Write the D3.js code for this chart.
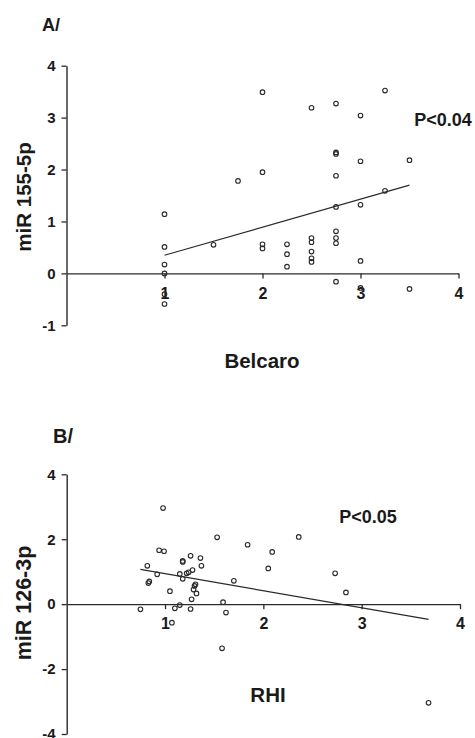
<!DOCTYPE html>
<html>
<head>
<meta charset="utf-8">
<script src="https://cdn.jsdelivr.net/npm/d3@7"></script>
<style>
  html, body { margin: 0; padding: 0; background: #fff; }
  svg text { font-family: "Liberation Sans", Arial, sans-serif; font-weight: bold; fill: #1a1a1a; }
</style>
</head>
<body>
<svg id="chart" width="475" height="738"></svg>
<script>
// ---- Panel A data (Belcaro vs miR 155-5p) ----
const belcaro = [1,1,1,1,1,1, 1.5, 1.75, 2,2,2,2, 2.25,2.25,2.25,
  2.5,2.5,2.5,2.5,2.5,2.5, 2.75,2.75,2.75,2.75,2.75,2.75,2.75,2.75,2.75,
  3,3,3,3,3, 3.25,3.25, 3.5,3.5];
const mir155 = [1.14,0.51,0.17,0.0,-0.40,-0.59, 0.55, 1.78, 3.49,1.95,0.56,0.48, 0.56,0.37,0.13,
  3.19,0.68,0.60,0.42,0.29,0.22, 3.27,2.33,2.30,1.88,1.28,0.81,0.68,0.58,-0.16,
  3.04,2.16,1.32,0.24,-0.28, 3.52,1.59, 2.18,-0.30];
const fitAx = [1, 3.5];
const fitAy = [0.35, 1.70];
const ticksAx = [1, 2, 3, 4];
const ticksAy = [-1, 0, 1, 2, 3, 4];

// ---- Panel B data (RHI vs miR 126-3p) ----
const rhi = [0.98,1.53,1.84,2.09,2.36, 0.94,0.99,1.26,1.36,1.18,1.18,
  1.37,0.82,1.28,1.15,1.22,1.24,0.92, 1.18,0.84,0.83,2.73,2.05,1.70,2.84,
  1.31,1.30,1.29,1.32,1.05,1.27,1.59, 1.15,1.10,1.26,0.75,1.62,1.07, 1.58,3.68];
const mir126 = [2.96,2.06,1.83,1.61,2.07, 1.66,1.63,1.49,1.42,1.33,1.30,
  1.18,1.18,1.05,0.93,0.95,0.98,0.92, 0.78,0.70,0.65,0.95,1.10,0.72,0.36,
  0.61,0.56,0.45,0.33,0.40,0.15,0.06, -0.03,-0.13,-0.15,-0.16,-0.26,-0.57, -1.36,-3.04];
const fitBx = [0.75, 3.68];
const fitBy = [1.07, -0.47];
const ticksBx = [1, 2, 3, 4];
const ticksBy = [-4, -2, 0, 2, 4];

const svg = d3.select("#chart");
const ink = "#2a2a2a";
const fmt = d => String(d);

function panel(cfg) {
  const g = svg.append("g");
  const x = d3.scaleLinear().domain([0, 4]).range(cfg.xr);
  const y = d3.scaleLinear().domain(cfg.yd).range(cfg.yr);

  const ya = g.append("g").attr("transform", `translate(${x(0)},0)`)
    .call(d3.axisLeft(y).tickValues(cfg.yt).tickSize(5).tickSizeOuter(0).tickPadding(6).tickFormat(fmt));
  const xa = g.append("g").attr("transform", `translate(0,${y(0)})`)
    .call(d3.axisBottom(x).tickValues(cfg.xt).tickSize(5).tickSizeOuter(0).tickPadding(cfg.xpad).tickFormat(fmt));
  [ya, xa].forEach((a, k) => {
    a.select(".domain").attr("stroke", ink).attr("stroke-width", 1.4);
    a.selectAll(".tick line").attr("stroke", ink).attr("stroke-width", 1.3);
    a.selectAll(".tick text").attr("font-size", k === 0 ? 15 : 16).attr("fill", "#1a1a1a")
      .attr("font-family", '"Liberation Sans", Arial, sans-serif').attr("font-weight", "bold");
  });

  g.append("line")
    .attr("x1", x(cfg.fx[0])).attr("y1", y(cfg.fy[0]))
    .attr("x2", x(cfg.fx[1])).attr("y2", y(cfg.fy[1]))
    .attr("stroke", ink).attr("stroke-width", 1.2);

  g.selectAll("circle.pt").data(cfg.xs.map((v, i) => [v, cfg.ys[i]]))
    .join("circle").attr("class", "pt")
    .attr("cx", d => x(d[0])).attr("cy", d => y(d[1]))
    .attr("r", 2.3).attr("fill", "none").attr("stroke", ink).attr("stroke-width", 1.1);

  g.append("text").attr("x", cfg.tag[1]).attr("y", cfg.tag[2]).attr("font-size", cfg.tag[3]).text(cfg.tag[0]);
  g.append("text").attr("x", cfg.p[1]).attr("y", cfg.p[2]).attr("font-size", 18).attr("text-anchor", "middle").text(cfg.p[0]);
  g.append("text").attr("x", cfg.xl[1]).attr("y", cfg.xl[2]).attr("font-size", 20.5).attr("text-anchor", "middle").text(cfg.xl[0]);
  g.append("text").attr("transform", `translate(${cfg.yl[1]},${cfg.yl[2]}) rotate(-90)`)
    .attr("font-size", cfg.yl[3]).attr("text-anchor", "middle").text(cfg.yl[0]);
}

panel({
  xr: [66.5, 458.5], yd: [-1, 4], yr: [325.3, 65.7], xt: ticksAx, yt: ticksAy, xpad: 9,
  fx: fitAx, fy: fitAy, xs: belcaro, ys: mir155,
  tag: ["A/", 42, 31, 18], p: ["P<0.04", 443, 126], xl: ["Belcaro", 262, 368], yl: ["miR 155-5p", 31, 197, 20.5]
});
panel({
  xr: [66.7, 460], yd: [-4, 4], yr: [734, 474.3], xt: ticksBx, yt: ticksBy, xpad: 8,
  fx: fitBx, fy: fitBy, xs: rhi, ys: mir126,
  tag: ["B/", 53, 443, 20], p: ["P<0.05", 368, 523], xl: ["RHI", 268, 701.5], yl: ["miR 126-3p", 31, 603, 21.5]
});
</script>
</body>
</html>
